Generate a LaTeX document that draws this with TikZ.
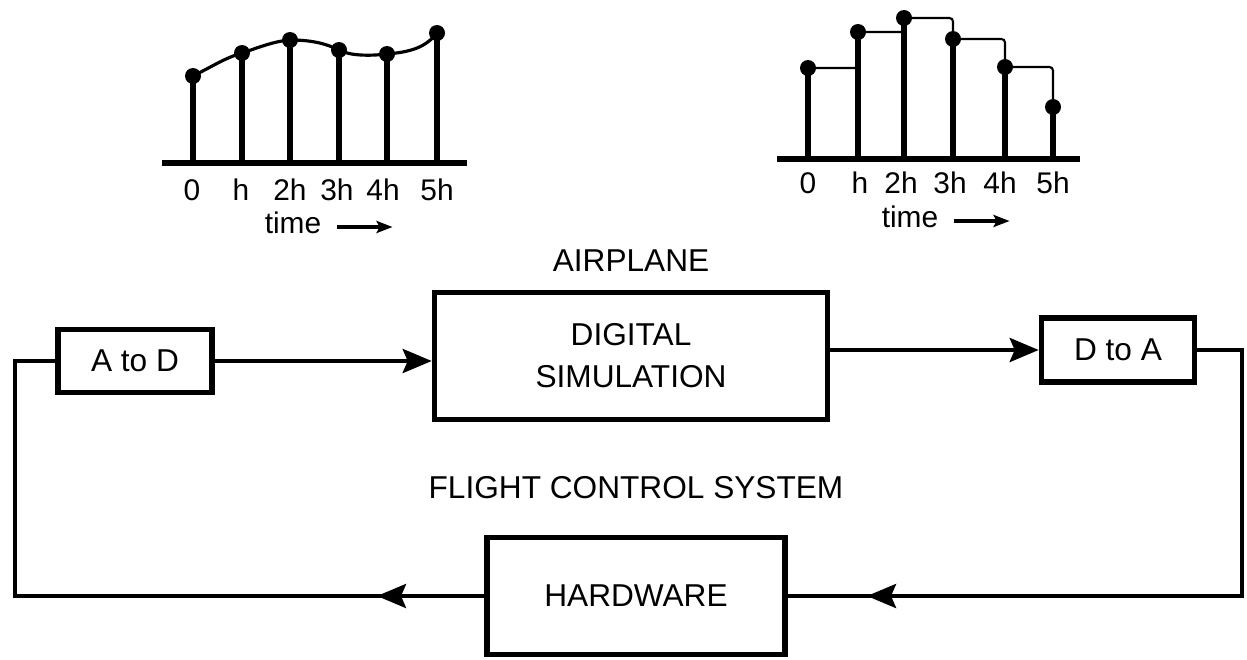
\documentclass[tikz,border=0pt]{standalone}
\usepackage{fontspec}
\setmainfont{Liberation Sans}
\usepackage{tikz}
\usetikzlibrary{arrows.meta, positioning}

\begin{document}
\begin{tikzpicture}[
  x=0.02cm, y=-0.02cm,
  box/.style={draw, line width=3.2pt, align=center, inner sep=0pt,
              font=\fontsize{18}{24}\selectfont},
  title/.style={font=\fontsize{18}{21}\selectfont},
  wire/.style={line width=2.4pt},
  head/.style={-{Stealth[length=0.58cm, width=0.48cm, inset=0.1cm]}},
  stem/.style={line width=2.9pt},
  hold/.style={line width=1.2pt, rounded corners=2pt},
  ticklbl/.style={font=\fontsize{17}{20}\selectfont, inner sep=0pt, anchor=base},
  tarrow/.style={-{Stealth[length=0.32cm, width=0.24cm, inset=0.06cm]}, line width=1.8pt}
]
\useasboundingbox (0,0) rectangle (1247,659);

% sampled signal
\draw[line width=2.9pt] (162,163) -- (467,163);
\foreach \t/\v in {193/76, 242/53, 290/40, 339/50, 387/54, 437/33} {
  \draw[stem] (\t,163) -- (\t,\v);
  \fill (\t,\v) circle (8);
}
\draw[line width=1.8pt] (193,76) .. controls (215,65) and (225,58) .. (242,53)
  .. controls (260,47) and (275,41) .. (290,40)
  .. controls (310,40) and (325,43) .. (339,50)
  .. controls (350,56) and (370,56) .. (387,54)
  .. controls (410,52) and (425,48) .. (437,33);
\foreach \t/\s/\n in {192/0/a0, 241/h/a1, 290/2h/a2, 337/3h/a3, 383/4h/a4, 437/5h/a5}
  \node[ticklbl] (\n) at (\t,200) {\s};
\node[ticklbl] (timea) at (293,233) {time};
\draw[tarrow] ([xshift=0.3cm, yshift=0.12cm]timea.base east) -- ++(1.12cm,0);

% held signal
\draw[line width=2.9pt] (777,159) -- (1080,159);
\foreach \t/\v in {808/68, 858/32, 904/18, 953/39, 1005/67, 1053/107} {
  \draw[stem] (\t,159) -- (\t,\v);
}
\draw[hold] (808,68) -- (858,68) -- (858,32) -- (904,32) -- (904,18)
  -- (953,18) -- (953,39) -- (1005,39) -- (1005,67) -- (1053,67) -- (1053,107);
\foreach \t/\v in {808/68, 858/32, 904/18, 953/39, 1005/67, 1053/107}
  \fill (\t,\v) circle (8);
\foreach \t/\s/\n in {808/0/b0, 860/h/b1, 901/2h/b2, 950/3h/b3, 1000/4h/b4, 1053/5h/b5}
  \node[ticklbl] (\n) at (\t,193) {\s};
\node[ticklbl] (timeb) at (910,227) {time};
\draw[tarrow] ([xshift=0.3cm, yshift=0.12cm]timeb.base east) -- ++(1.12cm,0);

% loop
\node[box, minimum width=3.08cm, minimum height=1.26cm] (atd) at (135,361) {A to D};
\node[box, minimum width=7.86cm, minimum height=2.54cm] (dig) at (631,356)
  {DIGITAL\\SIMULATION};
\node[box, minimum width=3.06cm, minimum height=1.28cm] (dta) at (1118,350) {D to A};
\node[box, minimum width=5.96cm, minimum height=2.34cm] (hw) at (636,596) {HARDWARE};

\node[title, above=0.25cm of dig] (air) {AIRPLANE};
\node[title, above=0.6cm of hw] (fcs) {FLIGHT CONTROL SYSTEM};

\coordinate (rc) at (1242,596);
\coordinate (lc) at (15,596);
\coordinate (ra) at (867,596);
\coordinate (la) at (377,596);

\draw[wire, head] (atd.east) -- (atd.east -| dig.west);
\draw[wire, head] (dig.east |- dta.west) -- (dta.west);
\draw[wire] (dta.east) -| (rc) -- (hw.east);
\draw[wire, head] (rc) -- (ra);
\draw[wire] (hw.west) -- (lc) |- (atd.west);
\draw[wire, head] (hw.west) -- (la);

\end{tikzpicture}
\end{document}
